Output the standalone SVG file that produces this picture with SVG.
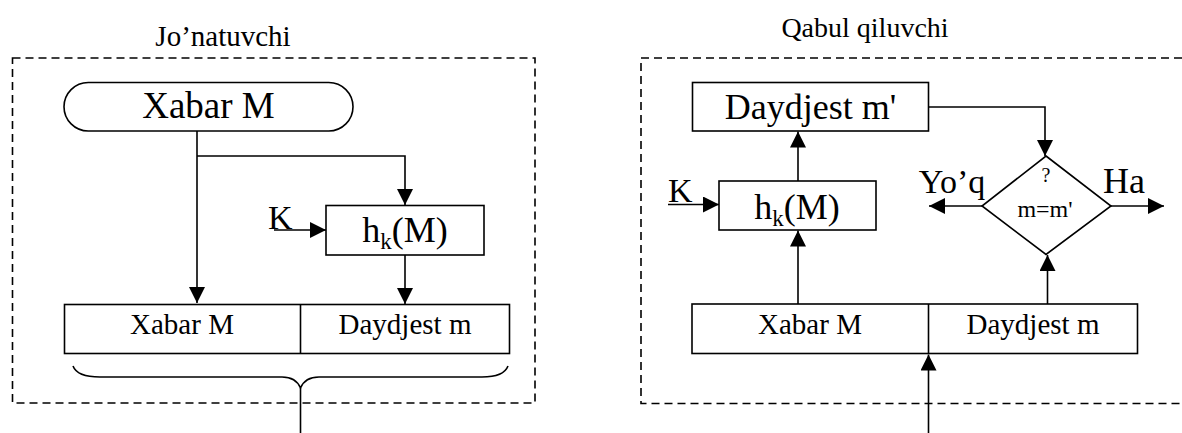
<svg xmlns="http://www.w3.org/2000/svg" width="1182" height="433" viewBox="0 0 1182 433">
<style>
.t{font-family:'Liberation Serif','Times New Roman',Tinos,'DejaVu Serif',serif;fill:#000}
.s{fill:#fff;stroke:#000;stroke-width:1.6}
.ln{fill:none;stroke:#000;stroke-width:1.6}
.d{fill:none;stroke:#000;stroke-width:1.6;stroke-dasharray:8 5}
</style>
<defs>
<marker id="ah" viewBox="0 0 16 16" refX="16" refY="8" markerWidth="16" markerHeight="16" markerUnits="userSpaceOnUse" orient="auto">
<path d="M0,0 L16,8 L0,16 Z" fill="#000"/>
</marker>
</defs>
<rect width="1182" height="433" fill="#fff"/>

<g id="sender">
<text class="t" x="223" y="46" font-size="29" text-anchor="middle" font-family="Liberation Serif, serif">Jo’natuvchi</text>
<rect class="d" x="12.5" y="58" width="522.5" height="345"/>
</g>
<g id="receiver">
<text class="t" x="865" y="37" font-size="28" text-anchor="middle">Qabul qiluvchi</text>
<path class="d" d="M1182,58 H641 V403.5 H1182"/>
</g>

<g id="connectors">
<path class="ln" d="M197,131 V303" marker-end="url(#ah)"/>
<path class="ln" d="M197,156 H405 V205" marker-end="url(#ah)"/>
<path class="ln" d="M274,230 H326" marker-end="url(#ah)"/>
<path class="ln" d="M405,255 V304" marker-end="url(#ah)"/>
<path class="ln" d="M73,366 C76,374 86,377 100,377 H282 C292,377 298,382 300.5,388 C303,382 309,377 319,377 H482 C496,377 505,374 508,366"/>
<path class="ln" d="M300.5,388 V433"/>
<path class="ln" d="M798,304 V230.5" marker-end="url(#ah)"/>
<path class="ln" d="M798,181 V131.5" marker-end="url(#ah)"/>
<path class="ln" d="M668,204.5 H719" marker-end="url(#ah)"/>
<path class="ln" d="M929,107 H1045 V156" marker-end="url(#ah)"/>
<path class="ln" d="M1047.5,304 V255" marker-end="url(#ah)"/>
<path class="ln" d="M982,206 H929" marker-end="url(#ah)"/>
<path class="ln" d="M1111,206 H1164" marker-end="url(#ah)"/>
<path class="ln" d="M928.5,433 V354.5" marker-end="url(#ah)"/>
</g>

<g id="xabar-start">
<rect class="s" x="64" y="82.5" width="289" height="48.5" rx="24.25" ry="24.25"/>
<text class="t" x="208.5" y="118" font-size="37" text-anchor="middle">Xabar M</text>
</g>
<g id="hk-left">
<rect class="s" x="326" y="205.5" width="158" height="49.5"/>
<text class="t" x="405" y="241.5" font-size="36" text-anchor="middle">h<tspan font-size="23" dy="7">k</tspan><tspan dy="-7">(M)</tspan></text>
<text class="t" x="268" y="229" font-size="34">K</text>
</g>
<g id="packet-left">
<rect class="s" x="64.5" y="304.5" width="445" height="49"/>
<path class="ln" d="M300.5,304.5 V353.5"/>
<text class="t" x="182" y="333.5" font-size="29" text-anchor="middle">Xabar M</text>
<text class="t" x="405" y="333.5" font-size="29" text-anchor="middle">Daydjest m</text>
</g>

<g id="digest-prime">
<rect class="s" x="692.5" y="82.5" width="236" height="48.5"/>
<text class="t" x="810.5" y="119" font-size="36" text-anchor="middle">Daydjest m'</text>
</g>
<g id="hk-right">
<rect class="s" x="719" y="181" width="157" height="49"/>
<text class="t" x="797" y="219" font-size="36" text-anchor="middle">h<tspan font-size="23" dy="7">k</tspan><tspan dy="-7">(M)</tspan></text>
<text class="t" x="668" y="202" font-size="34">K</text>
</g>
<g id="decision">
<path class="s" d="M1046,156 L1111,206 L1046,254.5 L982,206 Z"/>
<text class="t" x="1046" y="182" font-size="20" text-anchor="middle">?</text>
<text class="t" x="1045" y="217" font-size="24" text-anchor="middle">m=m'</text>
<text class="t" x="952" y="193" font-size="34" text-anchor="middle">Yo’q</text>
<text class="t" x="1124" y="193" font-size="36" text-anchor="middle">Ha</text>
</g>
<g id="packet-right">
<rect class="s" x="692" y="304" width="445.5" height="49.5"/>
<path class="ln" d="M928.5,304 V353.5"/>
<text class="t" x="810" y="333.5" font-size="29" text-anchor="middle">Xabar M</text>
<text class="t" x="1033" y="333.5" font-size="29" text-anchor="middle">Daydjest m</text>
</g>
</svg>
